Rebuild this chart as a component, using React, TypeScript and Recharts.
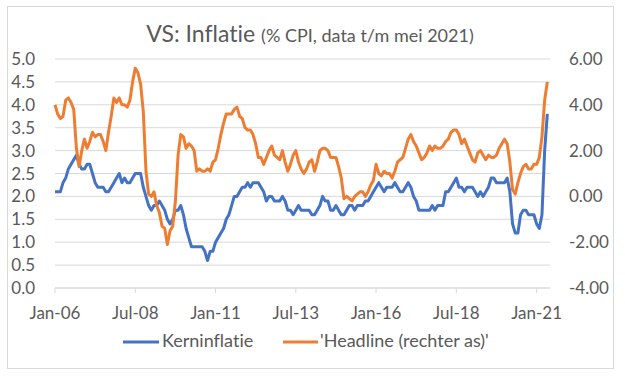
import React from 'react';
import { LineChart, Line, XAxis, YAxis, CartesianGrid } from 'recharts';

// maandelijkse cijfers jan-2006 t/m mei-2021 (% j/j)
const kerninflatie = [
  2.1, 2.1, 2.1, 2.3, 2.4, 2.6, 2.7, 2.8, 2.9, 2.7, 2.6, 2.6,
  2.7, 2.7, 2.5, 2.3, 2.2, 2.2, 2.2, 2.1, 2.1, 2.2, 2.3, 2.4,
  2.5, 2.3, 2.4, 2.3, 2.3, 2.4, 2.5, 2.5, 2.5, 2.2, 2.0, 1.8,
  1.7, 1.8, 1.8, 1.9, 1.8, 1.7, 1.5, 1.4, 1.5, 1.7, 1.7, 1.8,
  1.6, 1.3, 1.1, 0.9, 0.9, 0.9, 0.9, 0.9, 0.8, 0.6, 0.8, 0.8,
  1.0, 1.1, 1.2, 1.3, 1.5, 1.6, 1.8, 2.0, 2.0, 2.1, 2.2, 2.2,
  2.3, 2.2, 2.3, 2.3, 2.3, 2.2, 2.1, 1.9, 2.0, 2.0, 1.9, 1.9,
  1.9, 2.0, 1.9, 1.7, 1.7, 1.6, 1.7, 1.8, 1.7, 1.7, 1.7, 1.7,
  1.6, 1.6, 1.7, 1.8, 2.0, 1.9, 1.9, 1.7, 1.7, 1.8, 1.7, 1.6,
  1.6, 1.7, 1.8, 1.8, 1.7, 1.8, 1.8, 1.8, 1.9, 1.9, 2.0, 2.1,
  2.2, 2.3, 2.2, 2.1, 2.2, 2.2, 2.2, 2.3, 2.2, 2.1, 2.1, 2.2,
  2.3, 2.2, 2.0, 1.9, 1.7, 1.7, 1.7, 1.7, 1.7, 1.8, 1.7, 1.8,
  1.8, 1.8, 2.1, 2.1, 2.2, 2.3, 2.4, 2.2, 2.2, 2.1, 2.2, 2.2,
  2.2, 2.1, 2.0, 2.1, 2.0, 2.1, 2.2, 2.4, 2.4, 2.3, 2.3, 2.3,
  2.3, 2.4, 2.1, 1.4, 1.2, 1.2, 1.6, 1.7, 1.7, 1.6, 1.6, 1.6,
  1.4, 1.3, 1.6, 3.0, 3.8,
];

const headline = [
  4.0, 3.6, 3.4, 3.5, 4.2, 4.3, 4.1, 3.8, 2.1, 1.3, 2.0, 2.5,
  2.1, 2.4, 2.8, 2.6, 2.7, 2.7, 2.4, 2.0, 2.8, 3.5, 4.3, 4.1,
  4.3, 4.0, 4.0, 3.9, 4.2, 5.0, 5.6, 5.4, 4.9, 3.7, 1.1, 0.1,
  0.0, 0.2, -0.4, -0.7, -1.3, -1.4, -2.1, -1.5, -1.3, -0.2, 1.8, 2.7,
  2.6, 2.1, 2.3, 2.2, 2.0, 1.1, 1.2, 1.1, 1.1, 1.2, 1.1, 1.5,
  1.6, 2.1, 2.7, 3.2, 3.6, 3.6, 3.6, 3.8, 3.9, 3.5, 3.4, 3.0,
  2.9, 2.9, 2.7, 2.3, 1.7, 1.7, 1.4, 1.7, 2.0, 2.2, 1.8, 1.7,
  1.6, 2.0, 1.5, 1.1, 1.4, 1.8, 2.0, 1.5, 1.2, 1.0, 1.2, 1.5,
  1.6, 1.1, 1.5, 2.0, 2.1, 2.1, 2.0, 1.7, 1.7, 1.7, 1.3, 0.8,
  -0.1, 0.0, -0.1, -0.2, 0.0, 0.1, 0.2, 0.2, 0.0, 0.2, 0.5, 0.7,
  1.4, 1.0, 0.9, 1.1, 1.0, 1.0, 0.8, 1.1, 1.5, 1.6, 1.7, 2.1,
  2.5, 2.7, 2.4, 2.2, 1.9, 1.6, 1.7, 1.9, 2.2, 2.0, 2.2, 2.1,
  2.1, 2.2, 2.4, 2.5, 2.8, 2.9, 2.9, 2.7, 2.3, 2.5, 2.2, 1.9,
  1.6, 1.5, 1.9, 2.0, 1.8, 1.6, 1.8, 1.7, 1.7, 1.8, 2.1, 2.3,
  2.5, 2.3, 1.5, 0.3, 0.1, 0.6, 1.0, 1.3, 1.4, 1.2, 1.2, 1.4,
  1.4, 1.7, 2.6, 4.2, 5.0,
];

const monthNames = ['Jan', 'Feb', 'Mrt', 'Apr', 'Mei', 'Jun', 'Jul', 'Aug', 'Sep', 'Okt', 'Nov', 'Dec'];
const months = kerninflatie.map((_, i) => {
  const yr = 6 + Math.floor(i / 12);
  return `${monthNames[i % 12]}-${String(yr).padStart(2, '0')}`;
});

const xTickLabels = ['Jan-06', 'Jul-08', 'Jan-11', 'Jul-13', 'Jan-16', 'Jul-18', 'Jan-21'];
const leftTicks = [0, 0.5, 1, 1.5, 2, 2.5, 3, 3.5, 4, 4.5, 5];
const rightTicks = [-4, -2, 0, 2, 4, 6];

const data = months.map((m, i) => ({ i, m, kern: kerninflatie[i], head: headline[i] }));
const xTicks = xTickLabels.map(l => months.indexOf(l));

const FONT = 'Lato, "Open Sans", sans-serif';
const TXT = '#595959';

export default function App() {
  return (
    <div style={{ position: 'absolute', left: 0, top: 0, width: 625, height: 376, background: '#fff', fontFamily: FONT, fontVariantLigatures: 'none' }}>
      <div style={{ position: 'absolute', left: 7, top: 6, width: 607, height: 363, border: '1px solid #d9d9d9', boxSizing: 'border-box' }} />
      <LineChart width={625} height={376} data={data} margin={{ top: 59, right: 0, bottom: 48, left: 0 }}>
        <CartesianGrid yAxisId="l" vertical={false} stroke="#d9d9d9" strokeWidth={1} />
        <XAxis
          dataKey="i"
          type="number"
          domain={[0, 185]}
          ticks={xTicks}
          tickFormatter={(i: number) => months[i]}
          stroke="#d9d9d9"
          tick={{ fill: TXT, fontSize: 17, fontFamily: FONT }}
          tickSize={5}
          tickMargin={14}
          height={40}
          interval={0}
        />
        <YAxis
          yAxisId="l"
          width={55}
          domain={[0, 5]}
          ticks={leftTicks}
          tickFormatter={(v: number) => v.toFixed(1)}
          axisLine={false}
          tickLine={false}
          tickSize={0}
          tickMargin={20}
          interval={0}
          tick={{ fill: TXT, fontSize: 17, fontFamily: FONT }}
        />
        <YAxis
          yAxisId="r"
          orientation="right"
          width={75}
          domain={[-4, 6]}
          ticks={rightTicks}
          tickFormatter={(v: number) => v.toFixed(2)}
          axisLine={false}
          tickLine={false}
          tickSize={0}
          tickMargin={19}
          interval={0}
          tick={{ fill: TXT, fontSize: 17, fontFamily: FONT }}
        />
        <Line yAxisId="l" type="linear" dataKey="kern" stroke="#4472C4" strokeWidth={3} dot={false} isAnimationActive={false} strokeLinejoin="round" />
        <Line yAxisId="r" type="linear" dataKey="head" stroke="#ED7D31" strokeWidth={3} dot={false} isAnimationActive={false} strokeLinejoin="round" />
      </LineChart>
      <svg width={625} height={376} style={{ position: 'absolute', left: 0, top: 0, pointerEvents: 'none' }}>
        <text x={310} y={42} textAnchor="middle" fill={TXT} fontFamily={FONT}>
          <tspan fontSize={23}>VS: Inflatie </tspan>
          <tspan fontSize={18}>(% CPI, data t/m mei 2021)</tspan>
        </text>
        <line x1={123} x2={159} y1={342} y2={342} stroke="#4472C4" strokeWidth={3} />
        <text x={162} y={347} fill={TXT} fontSize={18} fontFamily={FONT}>Kerninflatie</text>
        <line x1={283} x2={318} y1={342} y2={342} stroke="#ED7D31" strokeWidth={3} />
        <text x={320} y={347} fill={TXT} fontSize={18} fontFamily={FONT}>'Headline (rechter as)'</text>
      </svg>
    </div>
  );
}
